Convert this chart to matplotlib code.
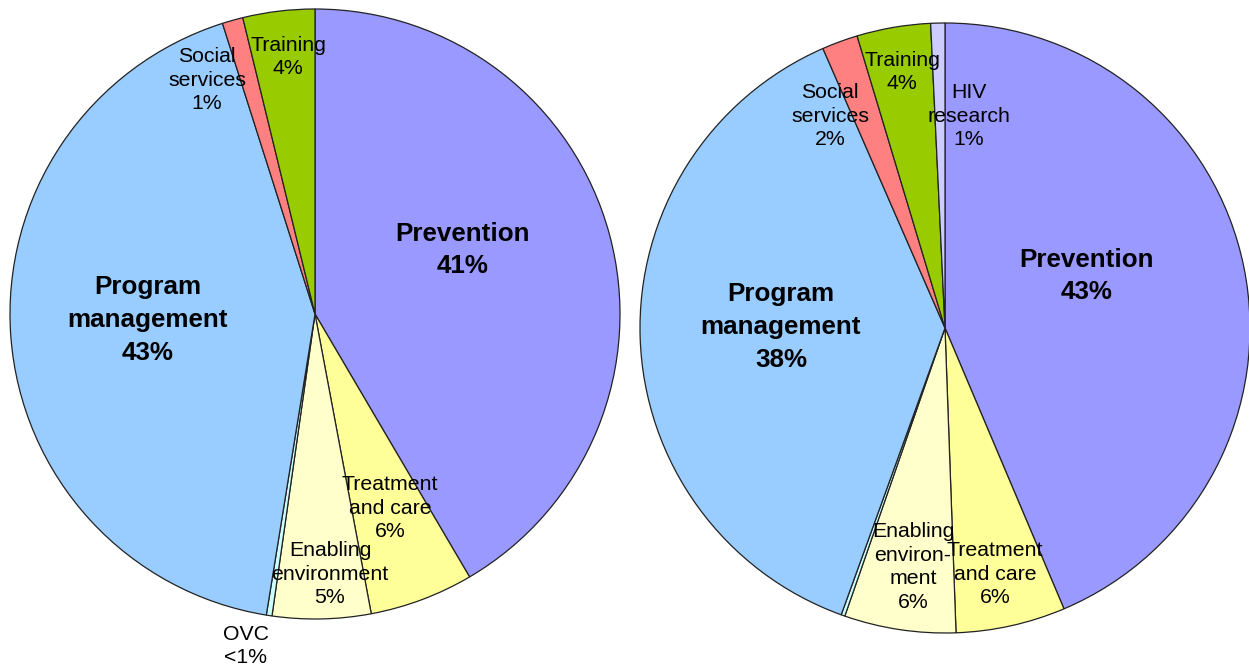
import matplotlib.pyplot as plt

plt.rcParams['font.family'] = ['Liberation Sans', 'DejaVu Sans']

# slice order: clockwise from 12 o'clock
left_names = ['Prevention', 'Treatment and care', 'Enabling environment', 'OVC',
              'Program management', 'Social services', 'Training']
left_values = [41.5, 5.5, 5.2, 0.3, 42.5, 1.1, 3.8]
left_texts = ['Prevention\n41%', 'Treatment\nand care\n6%', 'Enabling\nenvironment\n5%', 'OVC\n<1%',
              'Program\nmanagement\n43%', 'Social\nservices\n1%', 'Training\n4%']

right_names = ['Prevention', 'Treatment and care', 'Enabling environment', 'OVC',
               'Program management', 'Social services', 'Training', 'HIV research']
right_values = [43.6, 5.8, 5.9, 0.2, 37.9, 1.9, 3.9, 0.75]
right_texts = ['Prevention\n43%', 'Treatment\nand care\n6%', 'Enabling\nenviron-\nment\n6%', '',
               'Program\nmanagement\n38%', 'Social\nservices\n2%', 'Training\n4%', 'HIV\nresearch\n1%']

colors = {
    'Prevention': '#9999FF',
    'Treatment and care': '#FFFF99',
    'Enabling environment': '#FFFFCC',
    'OVC': '#CCFFFF',
    'Program management': '#99CCFF',
    'Social services': '#FF8080',
    'Training': '#99CC00',
    'HIV research': '#CCCCFF',
}

W, H = 1249, 670
fig = plt.figure(figsize=(W / 100, H / 100), dpi=100)
ax = fig.add_axes([0, 0, 1, 1])
ax.set_xlim(0, W)
ax.set_ylim(0, H)
ax.set_aspect('equal')
ax.axis('off')

# label positions in pixels (x, y from top)
left_pos = [(463, 250), (390, 508), (330, 574), (246, 646), (148, 320), (207, 80), (288, 57)]
right_pos = [(1087, 276), (995, 574), (913, 567), (0, 0), (781, 327), (830, 116), (902, 72), (969, 116)]
big = {'Prevention', 'Program management'}


def draw_pie(names, values, texts, positions, center, radius):
    ax.pie(values, colors=[colors[n] for n in names], startangle=90, counterclock=False,
           center=(center[0], H - center[1]), radius=radius, normalize=True,
           wedgeprops=dict(edgecolor='#222222', linewidth=0.9))
    for name, txt, (x, y) in zip(names, texts, positions):
        if not txt:
            continue
        if name in big:
            ax.text(x, H - y, txt, ha='center', va='center', fontsize=18.7,
                    fontweight='bold', linespacing=1.47, color='black')
        else:
            ax.text(x, H - y, txt, ha='center', va='center', fontsize=15.3,
                    linespacing=1.33, color='black')


draw_pie(left_names, left_values, left_texts, left_pos, (315, 314), 305)
draw_pie(right_names, right_values, right_texts, right_pos, (945, 328), 305)

ax.set_xlim(0, W)
ax.set_ylim(0, H)

plt.savefig('out.png', dpi=100)
